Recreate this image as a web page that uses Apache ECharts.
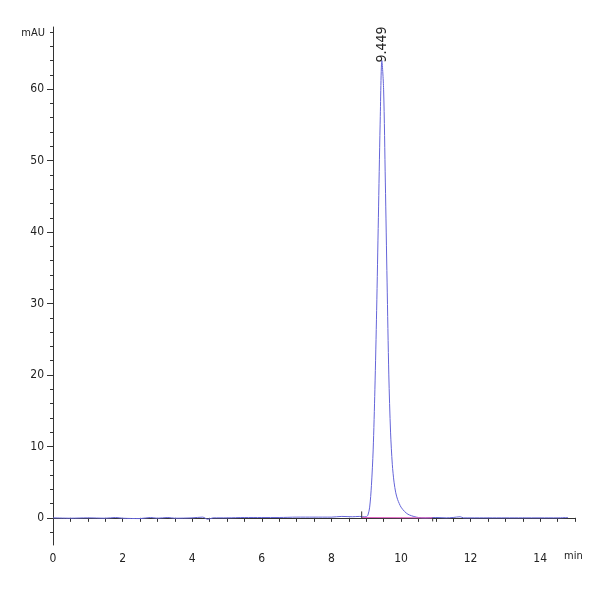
<!DOCTYPE html>
<html><head><meta charset="utf-8">
<script src="https://cdn.jsdelivr.net/npm/echarts@6/dist/echarts.min.js"></script>
<style>html,body{margin:0;padding:0;background:#fff}#c{width:600px;height:600px}</style>
</head><body><div id="c"></div>
<script>
const timeMin = [0,0.5,1,1.5,1.8,2,2.5,2.8,3,3.3,3.5,4,4.3,4.45,4.6,5,5.5,6,6.5,7,7.5,8,8.3,8.6,8.8,8.9,9.0,9.05,9.10,9.15,9.20,9.25,9.30,9.35,9.40,9.45,9.50,9.55,9.60,9.65,9.70,9.75,9.80,9.85,9.90,9.95,10.0,10.1,10.2,10.3,10.4,10.5,10.7,11,11.3,11.5,11.7,11.8,12,12.5,13,13.5,14,14.5,14.8];
const signal = [0,-0.05,0,-0.05,0.05,-0.05,-0.1,0.05,-0.05,0.05,-0.05,0,0.1,-0.2,0,0,0.05,0.05,0.05,0.1,0.1,0.1,0.2,0.15,0.2,0.15,0.15,0.4,1.5,4.5,9.5,18,29,42,55,64,60,47,33,20,12,7.5,5,3.5,2.6,2.0,1.5,0.9,0.5,0.3,0.15,0.05,0,0.05,0,0.05,0.15,0,0,0,0,0,0,0,0.05];
const peakRT = [9.449];
const peakH = [64];
const yLabels = [0,10,20,30,40,50,60];
const xLabels = [0,2,4,6,8,10,12,14];
const baseX = [8.87,10.91];
const baseY = [0.05,0.0];
const startTick = [[8.87,0],[8.87,0.9]];
const endTick = [[10.91,0],[10.91,-0.5]];

const F = '"DejaVu Sans Condensed","Liberation Sans Narrow",Arial,sans-serif';
const axisCol = '#333';
const chart = echarts.init(document.getElementById('c'));
const yMin = -3.8, yMax = 68.7;
const yMinor = []; for (let v=-2; v<=68; v+=2) yMinor.push(v);
const xTicks = []; for (let v=0; v<=15; v+=0.5) xTicks.push(v);
chart.setOption({
  animation:false,
  grid:{left:53,right:25,top:27,bottom:55,containLabel:false},
  graphic:[{type:'text',left:564,top:551,style:{text:'min',font:'11px '+F,fill:'#222'}}],
  xAxis:{type:'value',min:0,max:15,
    axisLine:{lineStyle:{color:axisCol,width:1}},
    axisTick:{customValues:xTicks,length:4,lineStyle:{color:axisCol}},
    axisLabel:{customValues:xLabels,fontFamily:F,fontSize:12,color:'#222',margin:8},
    splitLine:{show:false}},
  yAxis:[{type:'value',min:yMin,max:yMax,
    name:'mAU',nameLocation:'end',nameGap:-12,
    nameTextStyle:{fontFamily:F,fontSize:11,color:'#222',align:'right',padding:[0,8,0,0]},
    axisLine:{lineStyle:{color:axisCol,width:1}},
    axisTick:{customValues:yLabels,length:6,lineStyle:{color:axisCol}},
    axisLabel:{customValues:yLabels,fontFamily:F,fontSize:12,color:'#222',margin:9},
    splitLine:{show:false}},
    {type:'value',min:yMin,max:yMax,position:'left',offset:0,
    axisLine:{show:false},
    axisTick:{show:true,customValues:yMinor,length:3,lineStyle:{color:axisCol}},
    axisLabel:{show:false},splitLine:{show:false}}],
  series:[
    {type:'line',data:timeMin.map((t,i)=>[t,signal[i]]),showSymbol:false,smooth:0.3,
     lineStyle:{color:'#6464d8',width:1},
     markPoint:{symbol:'circle',symbolSize:0,
       data:[{coord:[peakRT[0],peakH[0]],value:peakRT[0].toFixed(3)}],
       label:{show:true,formatter:'{c}',rotate:90,position:'top',distance:0,offset:[16,8],
         fontFamily:F,fontSize:14,color:'#222'}}},
    {type:'line',data:baseX.map((t,i)=>[t,baseY[i]]),showSymbol:false,
     lineStyle:{color:'#e060c0',width:1}},
    {type:'line',data:startTick,showSymbol:false,lineStyle:{color:'#333',width:1}},
    {type:'line',data:endTick,showSymbol:false,lineStyle:{color:'#333',width:1}}
  ]
});
</script></body></html>
